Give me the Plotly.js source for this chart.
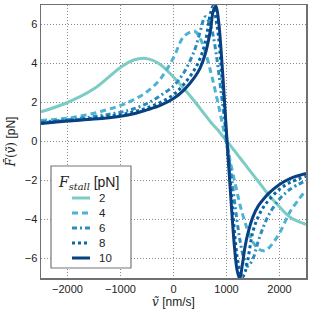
<!DOCTYPE html>
<html>
<head>
<meta charset="utf-8">
<script src="https://cdn.plot.ly/plotly-3.0.1.min.js"></script>
<style>html,body{margin:0;padding:0;background:#fff;}#chart{width:311px;height:314px;}</style>
</head>
<body>
<div id="chart"></div>
<script>
// shared velocity grid (nm/s)
const velocity = [-2500,-2000,-1500,-1000,-750,-500,-250,0,200,400,500,600,700,750,800,850,900,950,1000,1050,1100,1150,1200,1250,1300,1350,1400,1500,1600,1700,1800,2000,2200,2500];

// mean force F(v) [pN] for each stall force
const force_stall2  = [1.52,2.0,2.7,3.8,4.18,4.25,3.95,3.3,2.7,2.05,1.7,1.35,1.0,0.85,0.7,0.55,0.37,0.2,0.03,-0.13,-0.3,-0.47,-0.65,-0.82,-1.0,-1.17,-1.35,-1.7,-2.05,-2.4,-2.75,-3.35,-3.88,-4.25];
const force_stall4  = [1.08,1.2,1.45,1.85,2.15,2.55,3.2,4.3,5.4,5.65,5.3,4.6,3.6,3.05,2.45,1.85,1.2,0.55,-0.1,-0.75,-1.4,-2.0,-2.6,-3.2,-3.7,-4.15,-4.55,-5.15,-5.5,-5.6,-5.45,-4.7,-3.6,-2.5];
const force_stall6  = [1.0,1.12,1.28,1.5,1.68,1.95,2.35,2.85,3.55,4.7,5.6,6.4,5.95,5.4,4.6,3.6,2.5,1.4,0.25,-0.9,-1.95,-3.05,-4.1,-5.0,-5.7,-6.15,-6.4,-6.0,-5.1,-4.35,-3.75,-2.95,-2.45,-2.0];
const force_stall8  = [0.95,1.08,1.2,1.38,1.52,1.72,2.0,2.4,2.95,3.7,4.25,5.1,6.6,6.95,6.3,5.35,3.75,2.1,0.2,-1.4,-3.0,-4.6,-5.9,-6.6,-6.95,-6.7,-6.1,-4.6,-3.85,-3.35,-3.0,-2.45,-2.1,-1.78];
const force_stall10 = [0.92,1.05,1.15,1.3,1.42,1.62,1.85,2.2,2.65,3.3,3.75,4.5,5.75,6.7,6.95,6.2,4.6,2.6,0.45,-1.6,-3.6,-5.4,-6.6,-7.05,-6.3,-5.4,-4.75,-3.85,-3.3,-2.95,-2.65,-2.2,-1.9,-1.64];

const stallLabels = ['2','4','6','8','10'];
const seriesValues = [force_stall2, force_stall4, force_stall6, force_stall8, force_stall10];
const colors = ['#7bccc4','#4eb3d3','#2b8cbe','#0868ac','#084081'];
const dashes = ['solid','6px,4px','5px,3px,2px,3px','dot','solid'];

const traces = seriesValues.map((ys, i) => ({
  x: velocity, y: ys, type: 'scatter', mode: 'lines', name: stallLabels[i], showlegend: false,
  line: {color: colors[i], width: 3, dash: dashes[i], shape: 'spline', smoothing: 1}
}));

// hand-built legend box (paper coordinates) so entries sit tightly as in the reference
const plotL = 41, plotR = 306, plotT = 5, plotB = 278;
const px2x = p => (p - plotL) / (plotR - plotL);
const px2y = p => (plotB - p) / (plotB - plotT);
const legendRows = [198, 213, 228, 243, 258];

const shapes = [{type: 'rect', xref: 'paper', yref: 'paper', x0: px2x(51), x1: px2x(131), y0: px2y(268), y1: px2y(166),
  line: {color: '#777', width: 1.2}, fillcolor: '#fff', layer: 'above'}];
const annotations = [{xref: 'paper', yref: 'paper', x: px2x(56), y: px2y(183), xanchor: 'left', yanchor: 'middle', showarrow: false,
  text: '<span style="font-family:DejaVu Serif"><i>F</i><sub><i>stall</i></sub></span> [pN]', font: {size: 14, color: '#222'}}];
stallLabels.forEach((lab, i) => {
  shapes.push({type: 'line', xref: 'paper', yref: 'paper', x0: px2x(72), x1: px2x(90), y0: px2y(legendRows[i]), y1: px2y(legendRows[i]),
    line: {color: colors[i], width: 3, dash: dashes[i]}, layer: 'above'});
  annotations.push({xref: 'paper', yref: 'paper', x: px2x(97), y: px2y(legendRows[i]), xanchor: 'left', yanchor: 'middle',
    showarrow: false, text: lab, font: {size: 11.5, color: '#222'}});
});

const gridStyle = {gridcolor: '#8a8a8a', griddash: '1px,2px', gridwidth: 1, zeroline: false,
  showline: true, mirror: true, linecolor: '#707070', linewidth: 1.5, ticks: '',
  tickfont: {size: 11, color: '#222'}};

const layout = {
  width: 311, height: 314,
  margin: {l: 41, r: 5, t: 5, b: 36},
  paper_bgcolor: '#fff', plot_bgcolor: '#fff',
  font: {family: 'Liberation Sans, Arial, sans-serif', color: '#222'},
  xaxis: Object.assign({range: [-2500, 2500], tickvals: [-2000,-1000,0,1000,2000],
    title: {text: '<span style="font-family:DejaVu Serif"><i>ṽ</i></span> [nm/s]', font: {size: 12}, standoff: 4}}, gridStyle),
  yaxis: Object.assign({range: [-7, 7], tickvals: [-6,-4,-2,0,2,4,6],
    title: {text: '<span style="font-family:DejaVu Serif"><i>F̄</i>(<i>ṽ</i>)</span> [pN]', font: {size: 12}, standoff: 6}}, gridStyle),
  showlegend: false,
  shapes: shapes,
  annotations: annotations
};

Plotly.newPlot('chart', traces, layout, {displayModeBar: false, staticPlot: true});
</script>
</body>
</html>
